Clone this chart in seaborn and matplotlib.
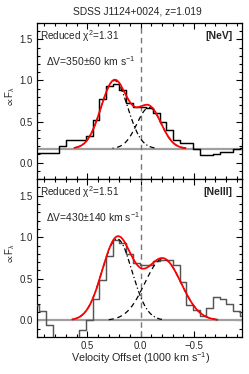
import numpy as np
import pandas as pd
import matplotlib
matplotlib.use("Agg")
import matplotlib.pyplot as plt
import seaborn as sns
from matplotlib.ticker import MultipleLocator

sns.set_theme(style="ticks")
plt.rcParams["font.family"] = ["Liberation Sans", "DejaVu Sans"]
plt.rcParams["mathtext.fontset"] = "custom"
plt.rcParams["mathtext.rm"] = "Liberation Sans"
plt.rcParams["mathtext.it"] = "Liberation Sans:italic"
plt.rcParams["mathtext.default"] = "regular"

# ---------------- data ----------------
title = "SDSS J1124+0024, z=1.019"
x_label = "Velocity Offset (1000 km s$^{-1}$)"
y_label = "$\\propto$F$_{\\lambda}$"
x_ticks = [0.5, 0.0, -0.5]
x_tick_labels = ["0.5", "0.0", "−0.5"]
y_ticks = [0.0, 0.5, 1.0, 1.5]
y_tick_labels = ["0.0", "0.5", "1.0", "1.5"]

velocity = [0.979, 0.916, 0.854, 0.791, 0.729, 0.666, 0.604, 0.541,
            0.479, 0.416, 0.354, 0.291, 0.229, 0.166, 0.104, 0.041,
            -0.021, -0.084, -0.146, -0.209, -0.271, -0.334, -0.396, -0.459,
            -0.521, -0.584, -0.646, -0.709, -0.771, -0.834, -0.896, -0.959]

flux_nev = [0.12, 0.12, 0.12, 0.12, 0.20, 0.28, 0.28, 0.27,
            0.32, 0.52, 0.78, 0.93, 0.96, 0.88, 0.72, 0.68,
            0.68, 0.66, 0.60, 0.50, 0.40, 0.28, 0.24, 0.24,
            0.17, 0.09, 0.09, 0.11, 0.13, 0.13, 0.16, 0.18]

flux_neiii = [0.18, 0.11, -0.06, -0.30, -0.30, -0.30, -0.30, -0.12,
              0.00, 0.26, 0.48, 0.78, 0.97, 0.93, 0.80, 0.69,
              0.66, 0.66, 0.71, 0.73, 0.72, 0.66, 0.46, 0.18,
              0.13, 0.05, 0.15, 0.28, 0.26, 0.20, 0.11, 0.05]

line_names = ["[NeV]", "[NeIII]"]
chi2_values = ["1.31", "1.51"]
delta_v = ["350±60", "430±140"]
continuum = [0.17, 0.0]

# Gaussian fit components: amplitude, centre, sigma (1000 km/s)
nev_amp = [0.83, 0.50]
nev_cen = [0.245, -0.08]
nev_sig = [0.125, 0.114]
neiii_amp = [0.98, 0.74]
neiii_cen = [0.22, -0.21]
neiii_sig = [0.14, 0.17]

# ---------------- figure ----------------
W, H = 249, 374
fig = plt.figure(figsize=(W / 100, H / 100), dpi=100)
AX_L, AX_W = 37, 205
ax_top = fig.add_axes([AX_L / W, 1 - 179 / H, AX_W / W, 156 / H])
ax_bot = fig.add_axes([AX_L / W, 1 - 337 / H, AX_W / W, 158 / H])


def fx(px):
    return (px - AX_L) / AX_W


panels = [
    (ax_top, flux_nev, "black", nev_amp, nev_cen, nev_sig, 0, 23, 179),
    (ax_bot, flux_neiii, "#555555", neiii_amp, neiii_cen, neiii_sig, 1, 179, 337),
]

fit_list = []
label_texts = []
for ax, flux, hcol, amps, cens, sigs, i, ytop, ybot in panels:
    cont = continuum[i]
    df = pd.DataFrame({"v": velocity, "f": flux})
    ax.axhline(cont, color="#a0a0a0", lw=1.6, zorder=1)
    ax.axvline(0.0, color="#777777", lw=1.0, ls=(0, (4, 3)), zorder=1)
    sns.lineplot(data=df, x="v", y="f", ax=ax, color=hcol, lw=1.05,
                 drawstyle="steps-mid", sort=False, estimator=None, zorder=3)
    styles = [(0, (4, 2, 1, 2)), (0, (4, 3))]
    lo = min(c - 3 * s for c, s in zip(cens, sigs))
    hi = max(c + 3 * s for c, s in zip(cens, sigs))
    for a, c, s, st in zip(amps, cens, sigs, styles):
        xx = np.linspace(c - 3 * s, c + 3 * s, 200)
        yy = cont + a * np.exp(-0.5 * ((xx - c) / s) ** 2)
        sns.lineplot(x=xx, y=yy, ax=ax, color="black", lw=0.9, ls=st,
                     sort=False, estimator=None, zorder=4)
    xt = np.linspace(lo, hi, 400)
    yt = cont + sum(a * np.exp(-0.5 * ((xt - c) / s) ** 2)
                    for a, c, s in zip(amps, cens, sigs))
    sns.lineplot(x=xt, y=yt, ax=ax, color="red", lw=1.3, sort=False,
                 estimator=None, zorder=5)

    ax.set_xlim(0.97, -0.95)
    ax.set_ylim(-0.2, 1.7)
    ax.set_xticks(x_ticks)
    ax.set_yticks(y_ticks)
    ax.set_yticklabels(y_tick_labels)
    ax.xaxis.set_minor_locator(MultipleLocator(0.1))
    ax.yaxis.set_minor_locator(MultipleLocator(0.1))
    ax.tick_params(which="both", direction="in", top=True, right=True,
                   color="black", width=0.8, labelsize=6.9, pad=3)
    ax.tick_params(which="major", length=4.5)
    ax.tick_params(which="minor", length=2)
    for sp in ax.spines.values():
        sp.set_color("black")
        sp.set_linewidth(0.9)
    ax.set_xlabel("")
    ax.set_ylabel("")

    hh = ybot - ytop

    def fy(py):
        return (ybot - py) / hh

    t1 = ax.text(fx(40), fy(ytop + 13.5), f"Reduced $\\chi^2$={chi2_values[i]}",
                 transform=ax.transAxes, fontsize=7.2, va="center", ha="left")
    t2 = ax.text(fx(45.5), fy(ytop + 38.5), f"ΔV={delta_v[i]} km s$^{{-1}}$",
                 transform=ax.transAxes, fontsize=7.2, va="center", ha="left")
    t3 = ax.text(fx(232.5), fy(ytop + 13), line_names[i],
                 transform=ax.transAxes, fontsize=7.2, va="center", ha="right",
                 fontweight="bold")
    label_texts.append(t3)
    fit_list += [(t1, 79), (t2, 89 if i == 0 else 94)]
    fig.text(10 / W, 1 - (ytop + hh * 0.47) / H, y_label, rotation=90,
             ha="center", va="center", fontsize=7)

ax_top.set_xticklabels([])
ax_bot.set_xticklabels(x_tick_labels)
xl = fig.text(140.5 / W, 1 - 358 / H, x_label, ha="center", va="center",
              fontsize=7.2)
tt = fig.text(137.5 / W, 1 - 11 / H, title, ha="center", va="center",
              fontsize=7.3)
fit_list += [(xl, 139), (tt, 129), (label_texts[0], 27)]

renderer = fig.canvas.get_renderer()
for t, target in fit_list:
    w = t.get_window_extent(renderer=renderer).width
    if w > 0:
        t.set_fontsize(t.get_fontsize() * target / w)
label_texts[1].set_fontsize(label_texts[0].get_fontsize())

fig.savefig("out.png", dpi=100)
